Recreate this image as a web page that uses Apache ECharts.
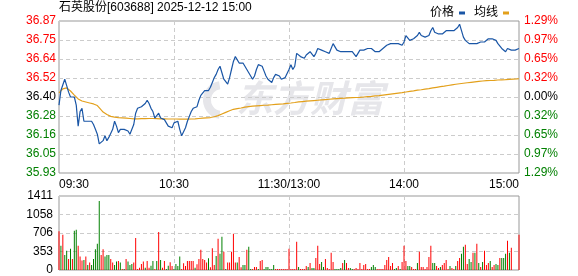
<!DOCTYPE html>
<html><head><meta charset="utf-8">
<script src="https://cdn.jsdelivr.net/npm/echarts@6/dist/echarts.min.js"></script>
<style>html,body{margin:0;padding:0;background:#fff}#c{width:578px;height:276px}</style>
</head><body><div id="c"></div>
<script>
const title = '石英股份[603688] 2025-12-12 15:00';
const prevClose = 36.40;
const priceStep = 0.1175;
const priceTicks = ['35.93','36.05','36.16','36.28','36.40','36.52','36.64','36.75','36.87'];
const pctTicks = ['1.29%','0.97%','0.65%','0.32%','0.00%','0.32%','0.65%','0.97%','1.29%'];
const timeTicks = ['09:30','10:30','11:30/13:00','14:00','15:00'];
const volTicks = ['0','353','706','1058','1411'];
const volMax = 1411;
const legendNames = ['价格','均线'];

const prices = [
36.35,36.44,36.45,36.51,36.47,36.43,36.40,36.39,36.40,36.35,
36.22,36.31,36.33,36.25,36.25,36.25,36.25,36.25,36.23,36.20,
36.17,36.11,36.10,36.13,36.16,36.13,36.15,36.14,36.20,36.25,
36.22,36.18,36.20,36.21,36.20,36.20,36.19,36.17,36.18,36.23,
36.30,36.33,36.34,36.34,36.34,36.36,36.38,36.36,36.33,36.31,
36.27,36.27,36.30,36.27,36.26,36.26,36.25,36.22,36.21,36.21,
36.24,36.25,36.25,36.20,36.16,36.17,36.21,36.25,36.28,36.31,
36.33,36.33,36.34,36.38,36.41,36.42,36.44,36.45,36.44,36.46,
36.49,36.52,36.54,36.57,36.59,36.55,36.51,36.52,36.48,36.52,
36.57,36.62,36.65,36.64,36.61,36.62,36.61,36.60,36.57,36.55,
36.54,36.51,36.53,36.57,36.60,36.60,36.59,36.56,36.53,36.51,
36.51,36.49,36.52,36.54,36.54,36.53,36.51,36.51,36.52,36.51,
36.57,36.60,36.57,36.59,36.67,36.66,36.65,36.65,36.64,36.66,
36.67,36.68,36.67,36.65,36.67,36.70,36.70,36.69,36.68,36.68,
36.68,36.67,36.68,36.73,36.71,36.69,36.69,36.68,36.68,36.68,
36.67,36.68,36.68,36.68,36.68,36.65,36.65,36.69,36.68,36.69,
36.68,36.70,36.70,36.70,36.70,36.68,36.68,36.68,36.69,36.70,
36.71,36.72,36.72,36.73,36.73,36.73,36.73,36.73,36.73,36.72,
36.74,36.78,36.78,36.75,36.76,36.76,36.77,36.78,36.80,36.78,
36.78,36.77,36.78,36.78,36.81,36.83,36.80,36.79,36.79,36.80,
36.79,36.80,36.81,36.81,36.81,36.81,36.81,36.82,36.83,36.85,
36.81,36.77,36.75,36.74,36.73,36.72,36.73,36.74,36.73,36.72,
36.74,36.73,36.74,36.75,36.76,36.75,36.76,36.76,36.75,36.73,
36.72,36.70,36.69,36.68,36.70,36.69,36.69,36.69,36.69,36.69,
36.70];

const avgPrices = [
36.425,36.437,36.450,36.456,36.456,36.450,36.437,36.425,36.412,36.400,
36.388,36.381,36.375,36.372,36.369,36.366,36.363,36.360,36.357,36.354,
36.347,36.338,36.320,36.307,36.298,36.292,36.286,36.280,36.276,36.276,
36.274,36.273,36.272,36.271,36.270,36.269,36.268,36.267,36.266,36.265,
36.265,36.265,36.265,36.266,36.266,36.266,36.267,36.267,36.267,36.267,
36.266,36.266,36.266,36.265,36.265,36.265,36.265,36.264,36.264,36.264,
36.264,36.264,36.264,36.263,36.263,36.263,36.263,36.263,36.264,36.264,
36.265,36.265,36.266,36.267,36.268,36.269,36.270,36.271,36.272,36.273,
36.275,36.278,36.281,36.285,36.290,36.295,36.300,36.305,36.310,36.315,
36.320,36.324,36.326,36.328,36.330,36.332,36.334,36.337,36.340,36.341,
36.342,36.343,36.344,36.345,36.346,36.347,36.348,36.349,36.350,36.350,
36.351,36.352,36.353,36.354,36.355,36.356,36.357,36.358,36.359,36.361,
36.362,36.363,36.364,36.366,36.368,36.370,36.371,36.372,36.373,36.374,
36.375,36.376,36.377,36.378,36.379,36.380,36.381,36.382,36.383,36.384,
36.385,36.386,36.387,36.388,36.389,36.390,36.391,36.392,36.393,36.393,
36.394,36.395,36.395,36.396,36.396,36.397,36.397,36.398,36.399,36.400,
36.401,36.402,36.403,36.404,36.405,36.407,36.408,36.409,36.411,36.412,
36.414,36.415,36.417,36.418,36.420,36.421,36.423,36.424,36.426,36.427,
36.429,36.431,36.433,36.435,36.436,36.438,36.440,36.442,36.444,36.445,
36.447,36.449,36.451,36.452,36.454,36.456,36.458,36.460,36.462,36.464,
36.465,36.467,36.469,36.471,36.473,36.475,36.477,36.479,36.480,36.482,
36.483,36.485,36.486,36.488,36.489,36.491,36.492,36.494,36.495,36.497,
36.498,36.499,36.500,36.501,36.501,36.502,36.503,36.503,36.504,36.505,
36.505,36.506,36.507,36.507,36.508,36.509,36.510,36.511,36.511,36.512,
36.513];

const volumes = [
737,462,673,288,365,212,404,212,750,769,
462,256,180,192,256,96,141,96,212,398,
500,1314,288,398,256,288,288,212,141,96,
160,173,141,19,19,212,160,96,115,141,
609,19,45,115,160,45,173,45,83,173,
19,173,724,192,45,173,19,83,147,77,
19,115,77,256,19,128,77,173,173,173,
173,45,109,212,385,212,192,141,224,51,
417,96,269,596,308,635,346,19,141,141,
346,692,141,141,250,51,96,96,385,442,
19,19,58,58,19,173,192,19,58,58,
19,19,96,19,19,19,19,19,19,19,
404,19,19,19,538,58,19,19,19,77,
58,135,38,38,231,462,115,154,58,212,
38,19,327,154,19,19,19,38,135,192,
135,38,38,19,19,38,19,135,19,96,
115,19,19,58,96,58,19,19,19,19,
96,192,250,77,135,19,38,77,19,154,
462,173,77,77,58,19,19,135,346,58,
58,19,58,250,462,135,135,77,38,58,
96,135,192,19,77,38,19,77,173,231,
308,442,481,115,212,154,327,327,500,135,
58,154,365,96,135,173,58,96,115,96,
231,231,231,308,558,327,423,0,0,0,
673];

const volUp = [
1,0,1,0,0,1,0,1,0,0,
1,1,1,0,1,0,1,0,0,0,
0,0,1,1,0,0,0,1,1,0,
0,1,0,1,0,1,0,0,0,1,
1,1,1,1,1,0,1,1,0,0,
1,0,1,0,1,1,0,0,1,1,
0,0,0,0,1,1,1,1,1,1,
1,0,1,1,1,1,1,1,0,1,
1,1,0,1,0,0,1,0,1,1,
1,1,1,0,1,1,0,0,1,0,
0,1,1,1,0,1,1,0,0,0,
0,0,0,1,1,1,1,1,1,1,
1,1,1,1,1,0,1,1,1,1,
0,1,0,0,1,1,1,0,0,1,
1,1,1,1,0,0,0,0,1,0,
1,1,0,0,1,1,1,1,1,1,
1,1,1,0,0,0,1,1,1,1,
1,1,1,1,1,0,0,1,0,1,
1,1,0,0,1,1,1,0,1,1,
1,1,1,1,1,0,0,1,1,0,
1,1,1,1,0,1,1,0,1,1,
0,0,1,1,0,0,1,0,1,0,
1,0,1,1,1,0,1,1,0,0,
1,0,0,0,1,0,1,1,1,1,
1];

const F = 'Arial, "Liberation Sans", "Noto Sans CJK SC", sans-serif';
const RED = '#ff0000', GREEN = '#008000';
const gridColor = '#cccccc';
const dash = [4, 3];

const chart = echarts.init(document.getElementById('c'), null, {renderer: 'canvas'});
const priceData = prices.map((p, i) => [i, (p - prevClose) / priceStep]);
const avgData = avgPrices.map((p, i) => [i, (p - prevClose) / priceStep]);
const volData = volumes.map((v, i) => ({value: [i, v], itemStyle: {color: volUp[i] ? RED : GREEN}}));
const nT = timeTicks.length - 1;
const tMax = prices.length - 1;
const tInt = tMax / nT;

const signColor = v => { v = Number(v); return v > 0.01 ? RED : (v < -0.01 ? GREEN : '#000'); };

chart.setOption({
  animation: false,
  backgroundColor: '#fff',
  textStyle: {fontFamily: F},
  legend: {
    data: legendNames, right: 64, top: 2, align: 'right', icon: 'rect',
    itemWidth: 6, itemHeight: 3, itemGap: 9,
    textStyle: {fontSize: 12, color: '#000', fontFamily: F}
  },
  graphic: [
    {type: 'text', left: 59, top: 2, silent: true,
     style: {text: title, font: '12px ' + F, fill: '#000'}},
    {type: 'arc', silent: true, z: -10,
     shape: {cx: 222, cy: 100, r: 15, startAngle: Math.PI * 0.55, endAngle: Math.PI * 1.45},
     style: {stroke: '#e6e6ea', lineWidth: 8, fill: null}},
    {type: 'text', left: 236, top: 79, silent: true, z: -10,
     style: {text: '东方财富', font: 'italic bold 37px "Noto Sans CJK SC"', fill: '#e6e6ea'}}
  ],
  grid: [
    {left: 59, right: 59, top: 21, height: 152, show: true, borderColor: '#999', borderWidth: 1, backgroundColor: 'transparent'},
    {left: 59, right: 59, top: 196, height: 74, show: true, borderColor: '#999', borderWidth: 1, backgroundColor: 'transparent'}
  ],
  xAxis: [
    {gridIndex: 0, type: 'value', min: 0, max: tMax, interval: tInt,
     axisLine: {show: false}, axisTick: {show: false},
     axisLabel: {margin: 6, fontSize: 12, color: '#000', fontFamily: F,
       alignMinLabel: 'left', alignMaxLabel: 'right',
       formatter: v => timeTicks[Math.round(v / tInt)]},
     splitLine: {show: true, lineStyle: {color: gridColor, type: dash}}},
    {gridIndex: 1, type: 'value', min: 0, max: tMax, interval: tInt,
     axisLine: {show: false}, axisTick: {show: false}, axisLabel: {show: false},
     splitLine: {show: true, lineStyle: {color: gridColor, type: dash}}}
  ],
  yAxis: [
    {gridIndex: 0, type: 'value', min: -4, max: 4, interval: 1, position: 'left',
     axisLine: {show: false}, axisTick: {show: false},
     axisLabel: {margin: 3, fontSize: 12, fontFamily: F,
       formatter: v => priceTicks[Math.round(v) + 4], color: signColor},
     splitLine: {show: true, lineStyle: {color: gridColor, type: dash}}},
    {gridIndex: 0, type: 'value', min: -4, max: 4, interval: 1, position: 'right',
     axisLine: {show: false}, axisTick: {show: false},
     axisLabel: {margin: 5, fontSize: 12, fontFamily: F,
       formatter: v => pctTicks[Math.round(v) + 4], color: signColor},
     splitLine: {show: false}},
    {gridIndex: 1, type: 'value', min: 0, max: volMax, interval: volMax / 4,
     axisLine: {show: false}, axisTick: {show: false},
     axisLabel: {margin: 6, fontSize: 12, color: '#000', fontFamily: F,
       formatter: v => volTicks[Math.round(v / (volMax / 4))]},
     splitLine: {show: true, lineStyle: {color: gridColor, type: dash}}}
  ],
  series: [
    {name: legendNames[0], type: 'line', xAxisIndex: 0, yAxisIndex: 0, data: priceData,
     showSymbol: false, silent: true, color: '#1a56a6', lineStyle: {width: 1.2, color: '#1a56a6'}, z: 4},
    {name: legendNames[1], type: 'line', xAxisIndex: 0, yAxisIndex: 0, data: avgData,
     showSymbol: false, silent: true, color: '#e3a01b', lineStyle: {width: 1.2, color: '#e3a01b'}, z: 3},
    {name: '成交量', type: 'bar', xAxisIndex: 1, yAxisIndex: 2, data: volData,
     barWidth: 1, silent: true}
  ]
});
</script></body></html>
